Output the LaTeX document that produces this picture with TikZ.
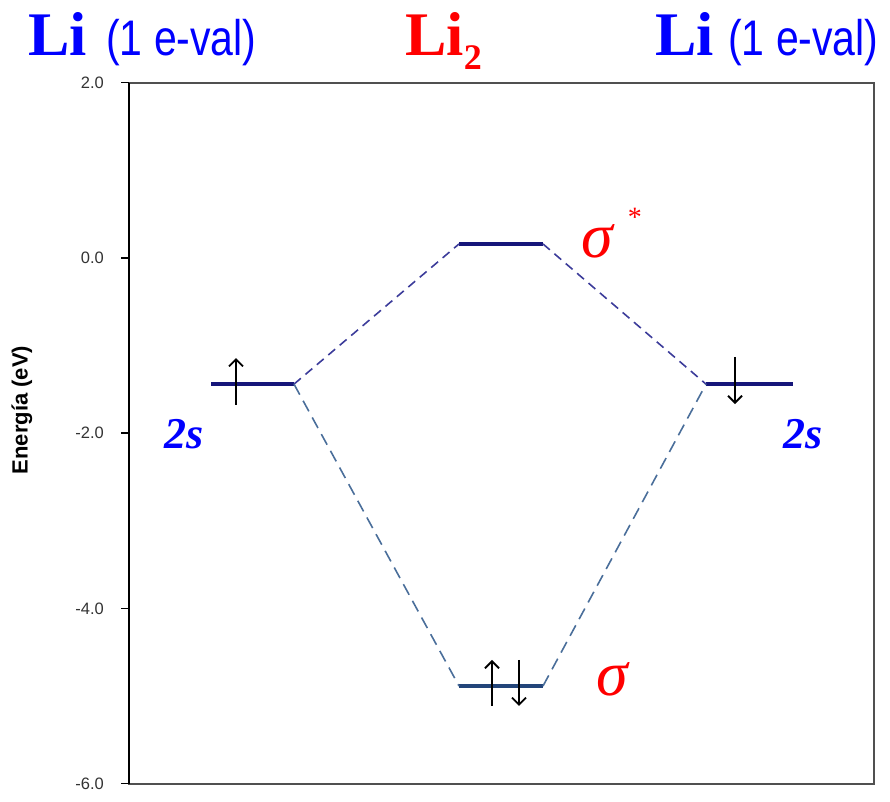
\documentclass[tikz,border=0pt]{standalone}
\usepackage{fontspec}
\setmainfont{Liberation Serif}
\setsansfont{Liberation Sans}
\newfontfamily\narrowsans[FakeStretch=0.82]{Liberation Sans}
\usepackage{tikz}
\usetikzlibrary{arrows.meta,positioning}
\definecolor{liblue}{HTML}{0000FF}
\definecolor{lired}{HTML}{FF0000}
\definecolor{lvlnavy}{HTML}{16167A}
\definecolor{lvlsteel}{HTML}{23457A}
\definecolor{dashpurple}{HTML}{3C3C9A}
\definecolor{dashsteel}{HTML}{4A6E9A}
\definecolor{framegray}{HTML}{505050}

\begin{document}
\begin{tikzpicture}[
  x=1pt,y=87.6pt,
  molevel/.style={line width=3.5pt},
  updash/.style={dashpurple,line width=1.6pt,dash pattern=on 9pt off 6pt},
  lowdash/.style={dashsteel,line width=1.6pt,dash pattern=on 12pt off 7pt},
  spin/.style={-{Straight Barb[length=7pt,width=14pt]},line width=1.8pt,black},
  ticklab/.style={anchor=east,inner sep=0pt,font=\sffamily\fontsize{16.5}{16.5}\selectfont,black!80},
  atomlab/.style={anchor=base west,inner sep=0pt,font=\bfseries\fontsize{62}{62}\selectfont,liblue},
  valtxt/.style={anchor=base west,inner sep=0pt,font=\narrowsans\fontsize{50}{50}\selectfont,liblue},
  orblab/.style={inner sep=0pt,font=\bfseries\itshape\fontsize{44}{44}\selectfont,liblue},
  molab/.style={inner sep=0pt,font=\itshape\fontsize{64}{64}\selectfont,lired}]
\useasboundingbox (-129,2.945) rectangle (761,-6.199);

% frame and energy axis
\draw[framegray,line width=2pt] (0,2) rectangle (745,-6);
\draw[line width=1.6pt] (0,2) -- (0,-6);
\foreach \v in {2.0,0.0,-2.0,-4.0,-6.0} {
  \draw[line width=1.4pt] (-8,\v) -- (0,\v);
  \node[ticklab] at (-25,\v) {\v};
}
\node[rotate=90,font=\sffamily\bfseries\fontsize{22}{22}\selectfont] (ylab) at (-107,-1.735) {Energía (eV)};

% titles
\node[atomlab] (liL) at (-101,2.317) {Li};
\node[valtxt] (valL) at (-23,2.317) {(1 e-val)};
\node[atomlab,lired] (li2) at (276,2.317) {Li\raisebox{-14pt}{\fontsize{36}{36}\selectfont 2}};
\node[atomlab] (liR) at (526,2.317) {Li};
\node[valtxt] (valR) at (599,2.317) {(1 e-val)};

% energy levels
\coordinate (s1w) at (82,-1.44);  \coordinate (s1e) at (165,-1.44);
\coordinate (s2w) at (577,-1.44); \coordinate (s2e) at (664,-1.44);
\coordinate (asw) at (330,0.16);  \coordinate (ase) at (414,0.16);
\coordinate (bw) at (330,-4.886); \coordinate (be) at (414,-4.886);
\draw[molevel,lvlnavy] (s1w) -- (s1e);
\draw[molevel,lvlnavy] (s2w) -- (s2e);
\draw[molevel,lvlnavy] (asw) -- (ase);
\draw[molevel,lvlsteel] (bw) -- (be);

% correlation lines
\foreach \a/\b in {s1e/asw,ase/s2w} \draw[updash] (\a) -- (\b);
\foreach \a/\b in {s1e/bw,be/s2w} \draw[lowdash] (\a) -- (\b);

% electrons
\draw[spin] (107,-1.678) -- (107,-1.142);
\draw[spin] (606,-1.13) -- (606,-1.667);
\draw[spin] (363,-5.114) -- (363,-4.589);
\draw[spin] (390,-4.589) -- (390,-5.114);

% orbital labels
\node[orblab] (s1lab) at (55,-2.01) {2s};
\node[orblab] (s2lab) at (674,-2.01) {2s};
\node[molab,anchor=base west] (aslab) at (452,0) {σ\hspace{15pt}\raisebox{31pt}{\upshape\fontsize{28}{28}\selectfont *}};
\node[molab] (blab) at (483,-4.806) {σ};
\end{tikzpicture}
\end{document}
